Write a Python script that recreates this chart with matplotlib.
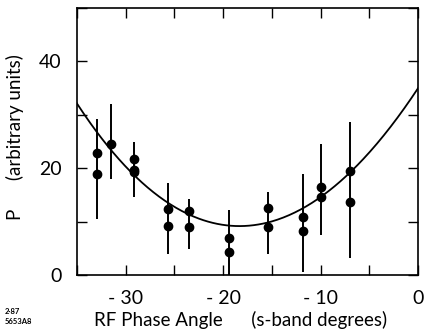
import numpy as np
import matplotlib.pyplot as plt
from matplotlib.ticker import MultipleLocator, FuncFormatter

# phase angle positions (s-band degrees) of each measurement group
phase = [-32.9, -31.5, -29.15, -25.6, -23.5, -19.4, -15.4, -11.8, -10.0, -7.0]
# measured P values at each position
p_vals = [[22.8, 19.0], [24.6], [21.7, 19.7, 19.3], [12.3, 9.2], [12.0, 9.0],
          [6.9, 4.3], [12.5, 9.0], [10.8, 8.2], [16.4, 14.6], [19.4, 13.6]]
# error bar extent for each position
err_lo = [10.5, 18.0, 14.6, 3.9, 4.9, 0.0, 3.9, 0.6, 7.5, 3.2]
err_hi = [29.3, 32.0, 24.9, 17.2, 14.2, 12.1, 15.5, 19.0, 24.5, 28.6]

# fitted curve, points
curve_x = [-35, -29.25, -25.5, -19.0, -12.1, -10.0, -7.0, 0.0]
curve_y = [32.0, 19.6, 12.7, 9.2, 12.5, 14.6, 19.0, 35.0]

plt.rcParams['font.family'] = ['Lato', 'DejaVu Sans']

fig = plt.figure(figsize=(4.27, 3.35), dpi=100)
ax = fig.add_axes([0.180, 0.179, 0.799, 0.797])

# smooth curve through the read points
coef = np.polyfit(curve_x, curve_y, 3)
xx = np.linspace(-35, 0, 300)
ax.plot(xx, np.polyval(coef, xx), color='black', lw=1.3)

ax.vlines(phase, err_lo, err_hi, color='black', lw=1.4)
for x, vals in zip(phase, p_vals):
    ax.plot([x] * len(vals), vals, 'o', color='black', ms=6)

ax.set_xlim(-35, 0)
ax.set_ylim(0, 50)
ax.xaxis.set_major_locator(MultipleLocator(5))
ax.yaxis.set_major_locator(MultipleLocator(10))
ax.xaxis.set_major_formatter(FuncFormatter(lambda v, p: '- %d' % -v if v < 0 and round(v) % 10 == 0
                                           else ('0' if round(v) == 0 else '')))
ax.yaxis.set_major_formatter(FuncFormatter(lambda v, p: '%d' % v if round(v) % 20 == 0 else ''))
ax.tick_params(direction='in', length=7, width=1.0, top=True, right=True,
               labelsize=14, pad=11)
for s in ax.spines.values():
    s.set_linewidth(1.2)

ax.set_xlabel('RF Phase Angle      (s-band degrees)', fontsize=13.5)
ax.xaxis.set_label_coords(0.48, -0.135)
ax.set_ylabel('P      (arbitrary units)', fontsize=13.5)
ax.yaxis.set_label_coords(-0.155, 0.515)

fig.text(0.012, 0.062, '2·87', fontsize=5.5, fontweight='bold')
fig.text(0.012, 0.032, '5653A8', fontsize=5.5, fontweight='bold')

fig.savefig('out.png', dpi=100)
